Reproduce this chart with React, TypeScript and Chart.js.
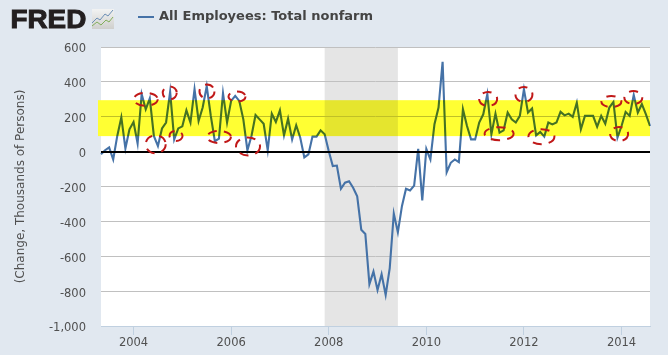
import React, { useEffect, useRef } from "react";
import { Chart, registerables } from "chart.js";

Chart.register(...registerables);

const START_YEAR = 2003;
const START_MONTH = 4; // May, zero-based
const yearTicks = [2004, 2006, 2008, 2010, 2012, 2014];
const valueTicks = [600, 400, 200, 0, -200, -400, -600, -800, -1000];

const payrollChange = [
  -15, 8, 24, -45, 90, 197, 18, 128, 170, 47, 330, 243, 306, 90, 32, 133, 167, 343, 70, 133,
  145, 237, 167, 358, 176, 253, 375, 205, 60, 75, 335, 167, 291, 320, 291, 185, 8, 90, 210, 185,
  160, 8, 218, 170, 237, 93, 189, 70, 151, 80, -33, -16, 86, 86, 122, 99, 3, -83, -80, -213,
  -178, -170, -207, -256, -448, -472, -760, -688, -793, -703, -822, -668, -355, -463, -313, -213, -223, -195, 16, -280,
  15, -45, 157, 253, 515, -118, -64, -45, -60, 243, 147, 70, 70, 167, 214, 330, 99, 218, 109, 122,
  224, 185, 167, 205, 358, 224, 247, 93, 113, 86, 167, 156, 167, 228, 208, 218, 199, 281, 128, 205,
  205, 205, 143, 205, 160, 253, 285, 80, 147, 228, 205, 324, 224, 272, 214, 147,
];

const recession = [2007 + 11 / 12, 2009 + 5 / 12];
const bandLow = 89;
const bandHigh = 295;

// Circled months (index into payrollChange) and the value at each circle's centre
const circleMonth = [11, 13.45, 16.9, 18.45, 26.06, 29, 33.44, 36.15, 95.2, 97.9, 104, 108.3, 125.5, 127.4, 130.9];
const circleValue = [300, 42, 337, 90, 345, 84, 316, 30, 302, 103, 328, 86, 287, 101, 310];
const circleWide = [12, 10, 7, 6.5, 7.5, 12, 8.5, 12, 9, 14.5, 8.5, 13, 10, 9, 9];
const circleTall = [6.5, 9, 6.5, 5, 7, 6, 5, 9, 7, 6.5, 7.5, 7.5, 5.5, 7, 6.5];

const toYear = (i: number) => START_YEAR + (START_MONTH + i) / 12;
const FONT = '"DejaVu Sans"';
const TEXT = "#505050";

const decor = {
  id: "decor",
  beforeDraw(chart: any) {
    const { ctx, chartArea: a, scales } = chart;
    scales.y.getLabelItems(a).forEach((item: any) => {
      if (!item.shifted) {
        item.options.translation[1] += 2.5;
        item.shifted = true;
      }
    });
    ctx.save();
    ctx.fillStyle = "#E1E8F0";
    ctx.fillRect(0, 0, chart.width, chart.height);
    ctx.fillStyle = "#FFFFFF";
    ctx.fillRect(a.left, a.top, a.right - a.left, a.bottom - a.top);
    ctx.fillStyle = "#E5E5E5";
    const x0 = scales.x.getPixelForValue(recession[0]);
    const x1 = scales.x.getPixelForValue(recession[1]);
    ctx.fillRect(x0, a.top, x1 - x0, a.bottom - a.top);

    // FRED logo
    ctx.save();
    ctx.fillStyle = "#231F20";
    ctx.strokeStyle = "#231F20";
    ctx.lineWidth = 1;
    ctx.font = 'bold 26px "Liberation Sans"';
    ctx.textBaseline = "alphabetic";
    ctx.textAlign = "left";
    ctx.translate(10.5, 28);
    ctx.scale(1.07, 1);
    ctx.fillText("FRED", 0, 0);
    ctx.strokeText("FRED", 0, 0);
    ctx.restore();
    ctx.textAlign = "left";
    const g = ctx.createLinearGradient(0, 9, 0, 29);
    g.addColorStop(0, "#F2F3F3");
    g.addColorStop(1, "#CFCFCD");
    ctx.fillStyle = g;
    ctx.fillRect(92, 9, 22, 20);
    const zig = (pts: number[], color: string) => {
      ctx.beginPath();
      for (let i = 0; i < pts.length; i += 2) ctx.lineTo(pts[i], pts[i + 1]);
      ctx.strokeStyle = color;
      ctx.lineWidth = 1;
      ctx.stroke();
    };
    zig([92, 23, 97, 18, 100, 20, 105, 14, 108, 16, 113, 10], "#6C8FB5");
    zig([92, 26, 97, 22, 101, 25, 106, 20, 109, 22, 113, 17], "#82AE5C");

    // Legend
    ctx.fillStyle = "#4572A7";
    ctx.fillRect(138, 16, 16, 2);
    ctx.fillStyle = "#444444";
    ctx.font = `bold 13px ${FONT}`;
    ctx.textBaseline = "middle";
    ctx.fillText("All Employees: Total nonfarm", 159, 16.5);
    ctx.restore();
  },
  afterDatasetsDraw(chart: any) {
    const { ctx, chartArea: a, scales } = chart;
    const yTop = scales.y.getPixelForValue(bandHigh);
    const yBot = scales.y.getPixelForValue(bandLow);
    ctx.save();
    ctx.fillStyle = "#FFFF33";
    ctx.fillRect(a.left - 3, yTop, 3, yBot - yTop);
    ctx.globalCompositeOperation = "multiply";
    ctx.fillRect(a.left, yTop, a.right - a.left, yBot - yTop);
    ctx.globalCompositeOperation = "source-over";

    ctx.fillStyle = "#000000";
    const y0 = Math.round(scales.y.getPixelForValue(0));
    ctx.fillRect(a.left, y0 - 1, a.right - a.left, 2);

    ctx.strokeStyle = "#C01818";
    ctx.lineWidth = 2;
    ctx.setLineDash([9, 7]);
    circleMonth.forEach((m, i) => {
      ctx.beginPath();
      ctx.ellipse(
        scales.x.getPixelForValue(toYear(m)),
        scales.y.getPixelForValue(circleValue[i]),
        circleWide[i],
        circleTall[i],
        0,
        0,
        Math.PI * 2,
      );
      ctx.stroke();
    });
    ctx.restore();
  },
};

export default function App() {
  const ref = useRef<HTMLCanvasElement>(null);
  useEffect(() => {
    document.body.style.margin = "0";
    document.body.style.overflow = "hidden";
    const chart = new Chart(ref.current!, {
      type: "line",
      data: {
        datasets: [
          {
            label: "All Employees: Total nonfarm",
            data: payrollChange.map((v, i) => ({ x: toYear(i), y: v })),
            borderColor: "#4572A7",
            borderWidth: 2.1,
            pointRadius: 0,
            tension: 0,
            clip: false,
          },
        ],
      },
      options: {
        animation: false,
        responsive: false,
        layout: { padding: { top: 47, right: 18, left: 0, bottom: 0 } },
        plugins: { legend: { display: false }, tooltip: { enabled: false } },
        scales: {
          x: {
            type: "linear",
            min: toYear(0),
            max: toYear(payrollChange.length - 1),
            afterBuildTicks: (s: any) => {
              s.ticks = yearTicks.map((value) => ({ value }));
            },
            afterFit: (s: any) => {
              s.height = 29;
            },
            border: { color: "#C0D0E0" },
            grid: { drawOnChartArea: false, drawTicks: true, tickLength: 9, tickColor: "#C0D0E0" },
            ticks: {
              maxRotation: 0,
              autoSkip: false,
              padding: 1,
              color: TEXT,
              font: { family: FONT, size: 11.5 },
              callback: (v: any) => String(v),
            },
          },
          y: {
            min: -1000,
            max: 600,
            afterBuildTicks: (s: any) => {
              s.ticks = valueTicks.map((value) => ({ value }));
            },
            afterFit: (s: any) => {
              s.width = 101;
            },
            border: { display: false },
            grid: {
              drawTicks: false,
              color: (c: any) => (c.tick && c.tick.value === -1000 ? "#C0D0E0" : "#C0C0C0"),
            },
            ticks: {
              padding: 15,
              color: TEXT,
              font: { family: FONT, size: 11.5 },
              callback: (v: any) => Number(v).toLocaleString("en-US"),
            },
            title: {
              display: true,
              text: "(Change, Thousands of Persons)",
              color: TEXT,
              font: { family: FONT, size: 12 },
              padding: { top: 14, bottom: 0 },
            },
          },
        },
      },
      plugins: [decor],
    } as any);
    return () => chart.destroy();
  }, []);
  return (
    <div style={{ width: 668, height: 355 }}>
      <canvas ref={ref} width={668} height={355} style={{ display: "block" }} />
    </div>
  );
}
